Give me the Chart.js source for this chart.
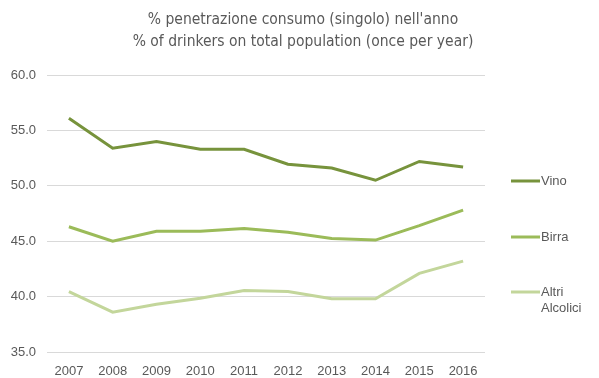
<!DOCTYPE html>
<html lang="en">
<head>
    <meta charset="UTF-8">
    <title>% penetrazione consumo</title>
    <script src="https://cdn.jsdelivr.net/npm/chart.js"></script>
    <style>
        html, body { margin: 0; padding: 0; background: #ffffff; }
        #wrap { width: 599px; height: 378px; position: relative; }
    </style>
</head>
<body>
<div id="wrap"><canvas id="line-chart"></canvas></div>
<script>
    // values
    const years = ["2007", "2008", "2009", "2010", "2011", "2012", "2013", "2014", "2015", "2016"];
    const vino = [56.1, 53.4, 54.0, 53.3, 53.3, 51.95, 51.6, 50.5, 52.2, 51.7];
    const birra = [46.3, 45.0, 45.9, 45.9, 46.15, 45.8, 45.25, 45.1, 46.4, 47.8];
    const altriAlcolici = [40.45, 38.6, 39.3, 39.85, 40.55, 40.45, 39.8, 39.8, 42.1, 43.2];
    const seriesNames = ["Vino", "Birra", ["Altri", "Alcolici"]];
    const titleLines = ["% penetrazione consumo (singolo) nell'anno", "% of drinkers on total population (once per year)"];

    const grey = "#595959";

    // title centred on the whole canvas, legend at the right of the plot
    const decorations = {
        id: "decorations",
        afterDraw(chart) {
            const ctx = chart.ctx;
            ctx.save();
            ctx.fillStyle = grey;
            ctx.textAlign = "center";
            ctx.textBaseline = "middle";
            ctx.font = "15.5px 'Liberation Sans Narrow', 'DejaVu Sans Condensed', Arial, sans-serif";
            titleLines.forEach((t, i) => ctx.fillText(t, 303, 20 + i * 22));

            const rows = [181, 237, 292];
            ctx.textAlign = "left";
            ctx.font = "13px 'Liberation Sans', Arial, sans-serif";
            chart.data.datasets.forEach((ds, i) => {
                const y = rows[i];
                ctx.strokeStyle = ds.borderColor;
                ctx.lineWidth = 3;
                ctx.beginPath();
                ctx.moveTo(511, y);
                ctx.lineTo(540, y);
                ctx.stroke();
                const lines = Array.isArray(ds.label) ? ds.label : [ds.label];
                lines.forEach((t, j) => ctx.fillText(t, 541, y + j * 16));
            });
            ctx.restore();
        }
    };

    const common = { borderWidth: 3, pointRadius: 0, tension: 0, fill: false };

    new Chart(document.getElementById("line-chart"), {
        type: "line",
        data: {
            labels: years,
            datasets: [
                Object.assign({ label: seriesNames[0], data: vino, borderColor: "#77933C" }, common),
                Object.assign({ label: seriesNames[1], data: birra, borderColor: "#9BBB59" }, common),
                Object.assign({ label: seriesNames[2], data: altriAlcolici, borderColor: "#C3D69B" }, common)
            ]
        },
        options: {
            responsive: true,
            maintainAspectRatio: false,
            animation: false,
            layout: { padding: { left: 0, right: 114, top: 75, bottom: 0 } },
            plugins: {
                legend: { display: false },
                tooltip: { enabled: false },
                title: { display: false }
            },
            scales: {
                x: {
                    offset: true,
                    afterFit(scale) { scale.height = 26; },
                    grid: { display: false },
                    border: { display: false },
                    ticks: { color: grey, font: { family: "'Liberation Sans', Arial, sans-serif", size: 13 }, padding: 4, maxRotation: 0 }
                },
                y: {
                    min: 35,
                    max: 60,
                    afterFit(scale) { scale.width = 47; },
                    grid: { color: "#D9D9D9", lineWidth: 1, drawTicks: false },
                    border: { display: false },
                    ticks: {
                        stepSize: 5,
                        color: grey,
                        padding: 11,
                        font: { family: "'Liberation Sans', Arial, sans-serif", size: 13 },
                        callback: v => v.toFixed(1)
                    }
                }
            }
        },
        plugins: [decorations]
    });
</script>
</body>
</html>
